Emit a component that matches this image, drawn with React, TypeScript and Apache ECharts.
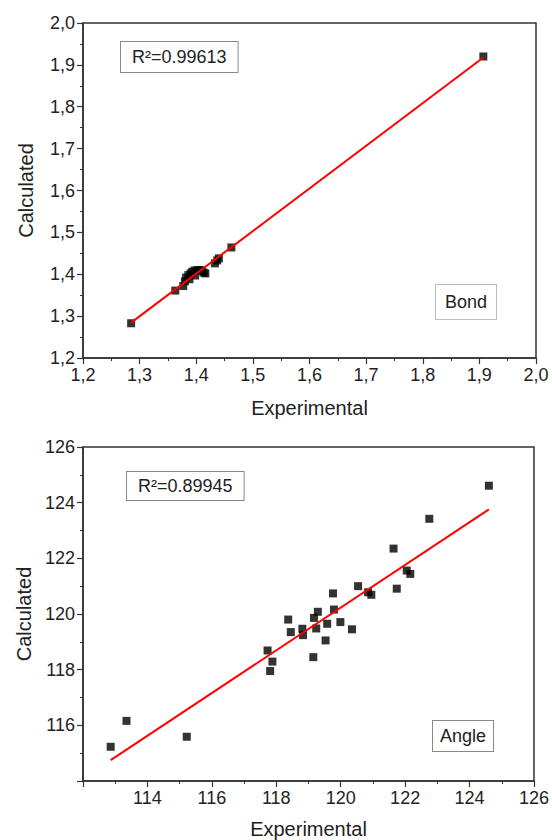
import React, { useEffect, useRef } from "react";
import * as echarts from "echarts";

// Bond lengths (Å): experimental vs calculated
const bondExperimental = [1.285, 1.363, 1.377, 1.380, 1.382, 1.386, 1.388, 1.390, 1.393, 1.397, 1.398, 1.402, 1.407, 1.410, 1.413, 1.416, 1.433, 1.437, 1.440, 1.462, 1.907];
const bondCalculated = [1.283, 1.361, 1.372, 1.383, 1.392, 1.398, 1.388, 1.402, 1.406, 1.409, 1.397, 1.410, 1.410, 1.408, 1.404, 1.402, 1.426, 1.433, 1.438, 1.464, 1.920];

// Bond angles (°): experimental vs calculated
const angleExperimental = [124.60, 122.75, 121.64, 121.74, 122.05, 122.16, 120.54, 120.85, 120.95, 119.76, 119.79, 119.29, 119.17, 119.58, 119.99, 120.35, 119.24, 119.53, 119.15, 118.37, 118.45, 118.81, 118.83, 117.73, 117.88, 117.81, 113.35, 115.22, 112.86];
const angleCalculated = [124.61, 123.42, 122.35, 120.91, 121.56, 121.44, 121.00, 120.78, 120.69, 120.74, 120.16, 120.08, 119.86, 119.65, 119.71, 119.45, 119.48, 119.05, 118.45, 119.80, 119.35, 119.47, 119.24, 118.69, 118.29, 117.95, 116.16, 115.59, 115.23];

const bondR2 = "R²=0.99613";
const angleR2 = "R²=0.89945";
const bondLabel = "Bond";
const angleLabel = "Angle";
const xTitle = "Experimental";
const yTitle = "Calculated";

function fitLine(xs: number[], ys: number[]): number[][] {
  const n = xs.length;
  const mx = xs.reduce((a, b) => a + b, 0) / n;
  const my = ys.reduce((a, b) => a + b, 0) / n;
  let sxy = 0, sxx = 0;
  for (let i = 0; i < n; i++) {
    sxy += (xs[i] - mx) * (ys[i] - my);
    sxx += (xs[i] - mx) * (xs[i] - mx);
  }
  const b = sxy / sxx;
  const a = my - b * mx;
  const x0 = Math.min(...xs);
  const x1 = Math.max(...xs);
  return [[x0, a + b * x0], [x1, a + b * x1]];
}

const FONT = '"Liberation Sans", Arial, sans-serif';
const AXIS_COLOR = "#333";
const TEXT_COLOR = "#222";

function axisBase(extra: any) {
  return {
    type: "value",
    axisLine: { show: true, onZero: false, lineStyle: { color: AXIS_COLOR, width: 1.5 } },
    axisTick: { show: true, inside: false, length: 6, lineStyle: { color: AXIS_COLOR, width: 1.2 } },
    minorTick: { show: true, splitNumber: 2, length: 3, lineStyle: { color: AXIS_COLOR, width: 1 } },
    splitLine: { show: false },
    minorSplitLine: { show: false },
    nameLocation: "middle",
    nameTextStyle: { fontFamily: FONT, fontSize: 20, color: TEXT_COLOR },
    ...extra,
  };
}

const comma = (v: number) => v.toFixed(1).replace(".", ",");

export default function App() {
  const ref = useRef<HTMLDivElement>(null);
  useEffect(() => {
    if (!ref.current) return;
    const chart = echarts.init(ref.current, null, { renderer: "svg" });
    const labelStyle = { fontFamily: FONT, fontSize: 18, color: TEXT_COLOR, margin: 8 };
    const boxText = (text: string, left: number, top: number, pad: number[], border: string) => ({
      type: "text",
      left,
      top,
      z: 100,
      style: {
        text,
        font: `18px ${FONT}`,
        fill: TEXT_COLOR,
        padding: pad,
        borderColor: border,
        borderWidth: 1,
        backgroundColor: "#fff",
      },
    });
    chart.setOption({
      animation: false,
      backgroundColor: "#fff",
      grid: [
        { left: 83, top: 23, width: 453, height: 335, show: true, borderColor: AXIS_COLOR, borderWidth: 1.5 },
        { left: 83, top: 447, width: 453, height: 335, show: true, borderColor: AXIS_COLOR, borderWidth: 1.5 },
      ],
      xAxis: [
        axisBase({
          gridIndex: 0, min: 1.2, max: 2.0, interval: 0.1, name: xTitle, nameGap: 40,
          axisLabel: { ...labelStyle, formatter: comma },
        }),
        axisBase({
          gridIndex: 1, min: 112, max: 126, interval: 2, name: xTitle, nameGap: 38,
          axisLabel: { ...labelStyle, formatter: (v: number) => (v === 112 ? "" : String(v)) },
        }),
      ],
      yAxis: [
        axisBase({
          gridIndex: 0, min: 1.2, max: 2.0, interval: 0.1, name: yTitle, nameGap: 47,
          axisLabel: { ...labelStyle, formatter: comma },
        }),
        axisBase({
          gridIndex: 1, min: 114, max: 126, interval: 2, name: yTitle, nameGap: 47,
          axisLabel: { ...labelStyle, formatter: (v: number) => (v === 114 ? "" : String(v)) },
        }),
      ],
      series: [
        {
          type: "line", xAxisIndex: 0, yAxisIndex: 0, data: fitLine(bondExperimental, bondCalculated),
          symbol: "none", lineStyle: { color: "#ff0000", width: 2 }, z: 3,
        },
        {
          type: "scatter", xAxisIndex: 0, yAxisIndex: 0, symbol: "rect", symbolSize: 8,
          itemStyle: { color: "#000" }, z: 2,
          data: bondExperimental.map((x, i) => [x, bondCalculated[i]]),
        },
        {
          type: "line", xAxisIndex: 1, yAxisIndex: 1, data: fitLine(angleExperimental, angleCalculated),
          symbol: "none", lineStyle: { color: "#ff0000", width: 2 }, z: 3,
        },
        {
          type: "scatter", xAxisIndex: 1, yAxisIndex: 1, symbol: "rect", symbolSize: 8,
          itemStyle: { color: "#000" }, z: 2,
          data: angleExperimental.map((x, i) => [x, angleCalculated[i]]),
        },
      ],
      graphic: [
        boxText(bondR2, 120, 41, [6, 11, 6, 11], "#888"),
        boxText(bondLabel, 435, 284, [8, 9, 8, 9], "#bbb"),
        boxText(angleR2, 126, 471, [5, 11, 5, 11], "#888"),
        boxText(angleLabel, 432, 720, [6, 7, 6, 7], "#888"),
      ],
    });
    return () => chart.dispose();
  }, []);
  return (
    <div
      ref={ref}
      style={{ position: "absolute", left: 0, top: 0, width: 552, height: 840, background: "#fff" }}
    />
  );
}
